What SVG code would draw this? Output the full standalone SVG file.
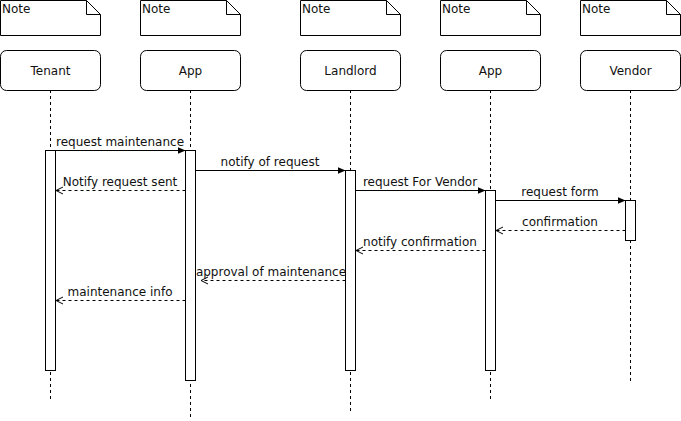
<svg xmlns="http://www.w3.org/2000/svg" width="681" height="421" viewBox="0 0 681 421">
<defs>
<style>
text{font-family:"DejaVu Sans",Verdana,sans-serif;font-size:12px;fill:#111}
.note{fill:#fff;stroke:#000;stroke-width:1}
.part{fill:#fff;stroke:#000;stroke-width:1}
.life{stroke:#000;stroke-width:1;stroke-dasharray:3 3;fill:none}
.act{fill:#fff;stroke:#000;stroke-width:1}
.msg{stroke:#000;stroke-width:1;fill:none;marker-end:url(#block)}
.ret{stroke:#000;stroke-width:1;stroke-dasharray:3 3;fill:none;marker-end:url(#open)}
.c{text-anchor:middle}
</style>
<marker id="block" viewBox="0 0 8 7" refX="8" refY="3.5" markerWidth="8" markerHeight="7" markerUnits="userSpaceOnUse" orient="auto">
<path d="M0,0 L8,3.5 L0,7 Z" fill="#000"/>
</marker>
<marker id="open" viewBox="0 0 9 9" refX="8" refY="4.5" markerWidth="9" markerHeight="9" markerUnits="userSpaceOnUse" orient="auto">
<path d="M1,1 L8,4.5 L1,8" fill="none" stroke="#000" stroke-width="1"/>
</marker>
</defs>
<g id="notes">
<g id="note1"><path class="note" d="M0.5,0.5 H86.5 L100.5,14.5 V35.5 H0.5 Z M86.5,0.5 V14.5 H100.5"/><text x="2" y="13">Note</text></g>
<g id="note2"><path class="note" d="M140.5,0.5 H226.5 L240.5,14.5 V35.5 H140.5 Z M226.5,0.5 V14.5 H240.5"/><text x="142" y="13">Note</text></g>
<g id="note3"><path class="note" d="M300.5,0.5 H386.5 L400.5,14.5 V35.5 H300.5 Z M386.5,0.5 V14.5 H400.5"/><text x="302" y="13">Note</text></g>
<g id="note4"><path class="note" d="M440.5,0.5 H526.5 L540.5,14.5 V35.5 H440.5 Z M526.5,0.5 V14.5 H540.5"/><text x="442" y="13">Note</text></g>
<g id="note5"><path class="note" d="M580.5,0.5 H666.5 L680.5,14.5 V35.5 H580.5 Z M666.5,0.5 V14.5 H680.5"/><text x="582" y="13">Note</text></g>
</g>
<g id="tenant">
<line class="life" x1="50.5" y1="90" x2="50.5" y2="402"/>
<rect class="part" x="0.5" y="50.5" width="100" height="40" rx="6"/>
<text class="c" x="50.5" y="75">Tenant</text>
<rect class="act" x="45.5" y="150.5" width="10" height="220"/>
</g>
<g id="app1">
<line class="life" x1="190.5" y1="90" x2="190.5" y2="420"/>
<rect class="part" x="140.5" y="50.5" width="100" height="40" rx="6"/>
<text class="c" x="190.5" y="75">App</text>
<rect class="act" x="185.5" y="150.5" width="10" height="230"/>
</g>
<g id="landlord">
<line class="life" x1="350.5" y1="90" x2="350.5" y2="413"/>
<rect class="part" x="300.5" y="50.5" width="100" height="40" rx="6"/>
<text class="c" x="350.5" y="75">Landlord</text>
<rect class="act" x="345.5" y="170.5" width="10" height="200"/>
</g>
<g id="app2">
<line class="life" x1="490.5" y1="90" x2="490.5" y2="402"/>
<rect class="part" x="440.5" y="50.5" width="100" height="40" rx="6"/>
<text class="c" x="490.5" y="75">App</text>
<rect class="act" x="485.5" y="190.5" width="10" height="180"/>
</g>
<g id="vendor">
<line class="life" x1="630.5" y1="90" x2="630.5" y2="382"/>
<rect class="part" x="580.5" y="50.5" width="100" height="40" rx="6"/>
<text class="c" x="630.5" y="75">Vendor</text>
<rect class="act" x="625.5" y="200.5" width="10" height="40"/>
</g>
<g id="connectors">
<line class="msg" x1="55.5" y1="150.5" x2="185.5" y2="150.5"/>
<text class="c" x="120" y="146">request maintenance</text>
<line class="msg" x1="195.5" y1="170.5" x2="345.5" y2="170.5"/>
<text class="c" x="270" y="166">notify of request</text>
<line class="ret" x1="185.5" y1="190.5" x2="56" y2="190.5"/>
<text class="c" x="120" y="186">Notify request sent</text>
<line class="msg" x1="355.5" y1="190.5" x2="485.5" y2="190.5"/>
<text class="c" x="420" y="186">request For Vendor</text>
<line class="msg" x1="495.5" y1="200.5" x2="625.5" y2="200.5"/>
<text class="c" x="560" y="196">request form</text>
<line class="ret" x1="625.5" y1="230.5" x2="496" y2="230.5"/>
<text class="c" x="560" y="226">confirmation</text>
<line class="ret" x1="485.5" y1="250.5" x2="356" y2="250.5"/>
<text class="c" x="420" y="246">notify confirmation</text>
<line class="ret" x1="345.5" y1="280.5" x2="201" y2="280.5"/>
<text class="c" x="271" y="276">approval of maintenance</text>
<line class="ret" x1="185.5" y1="300.5" x2="56" y2="300.5"/>
<text class="c" x="120" y="296">maintenance info</text>
</g>
</svg>
